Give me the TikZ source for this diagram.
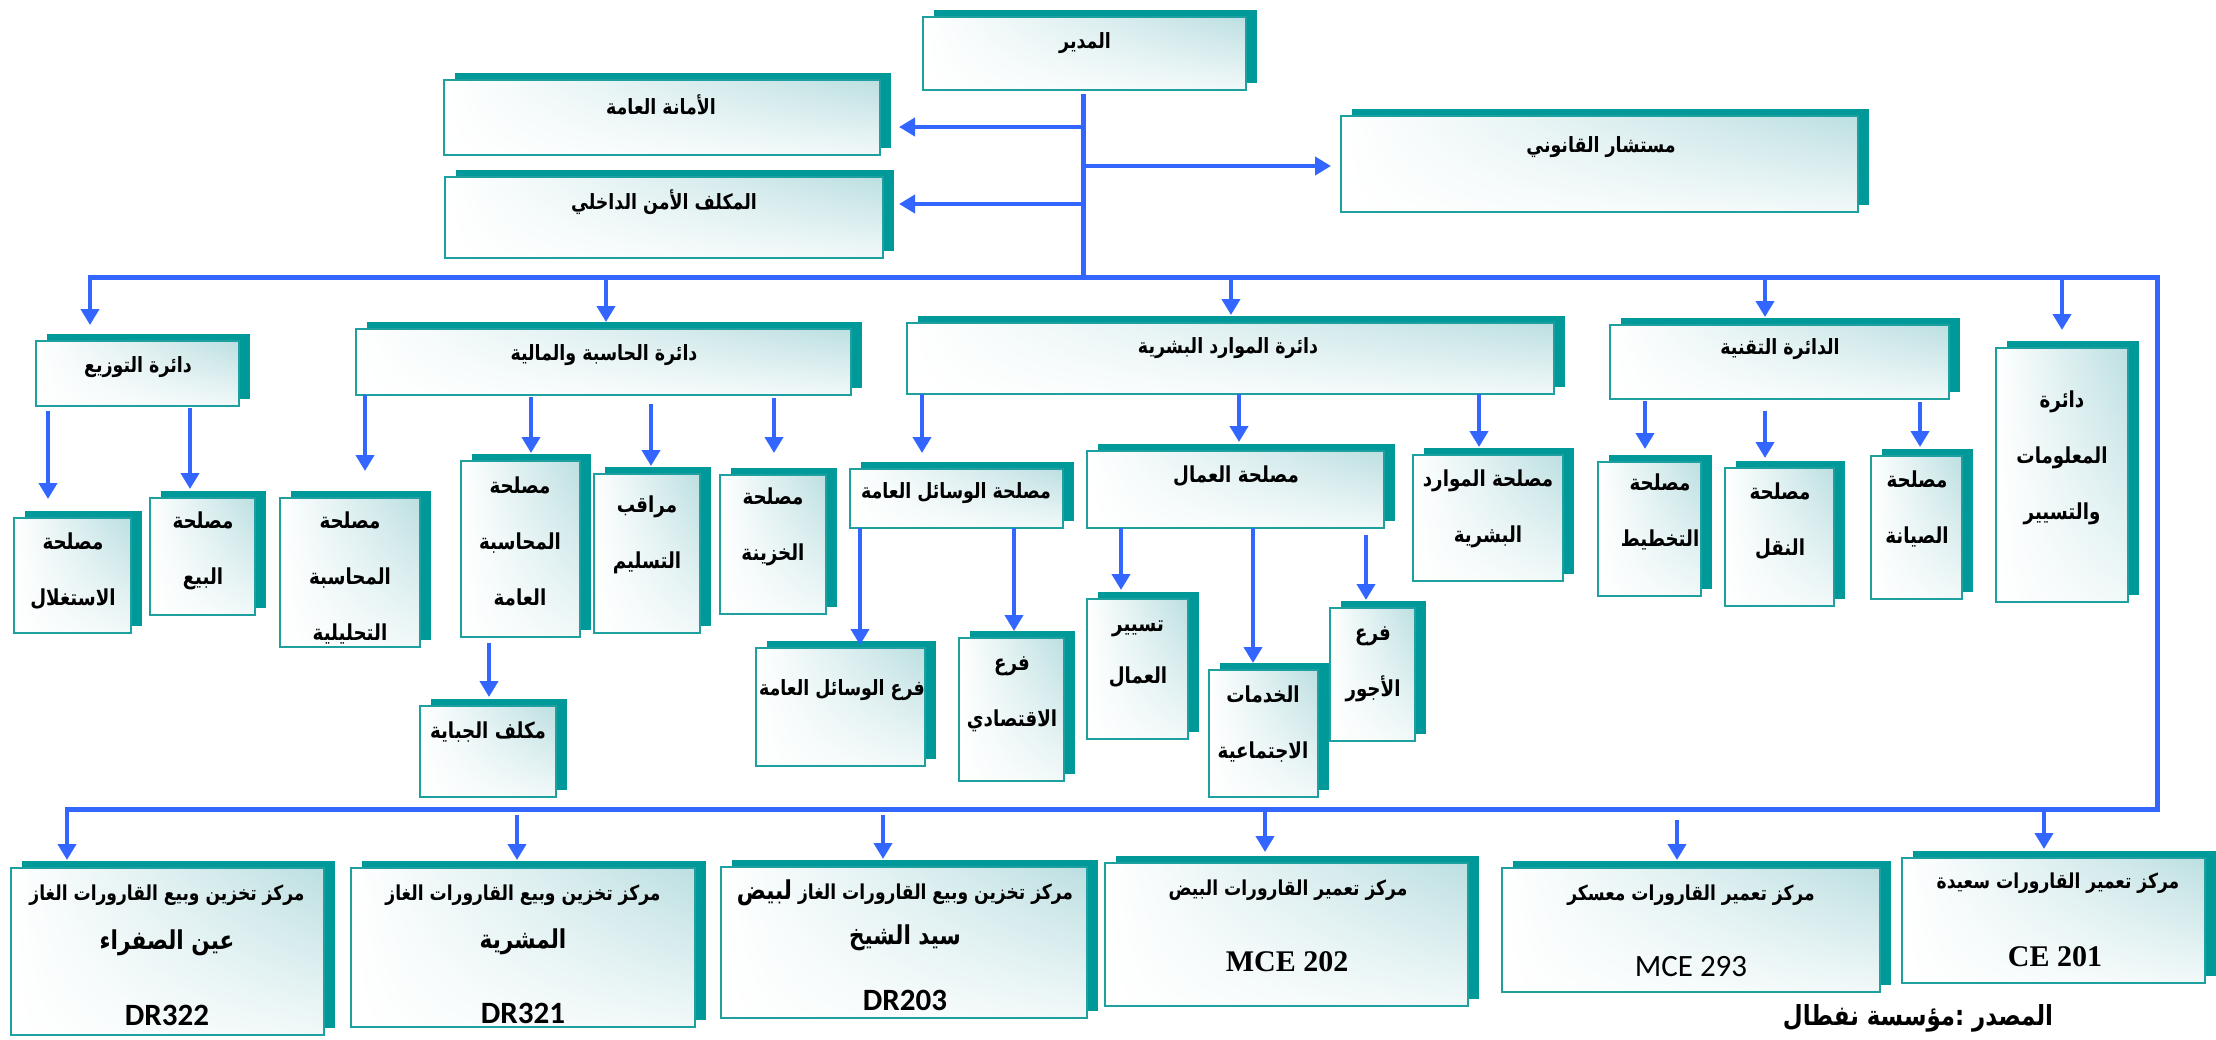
\documentclass[tikz,border=0pt]{standalone}
\usepackage{fontspec}
\usetikzlibrary{arrows.meta,shadows,fit,shadings}
\TeXXeTstate=1
\newfontfamily\arabicfont[Script=Arabic,FakeStretch=0.83]{DejaVu Sans}
\newfontfamily\serifbf{Liberation Serif}
\newfontfamily\calib{Carlito}
\newcommand\arl[1]{\beginR #1\endR}
\definecolor{shadowteal}{RGB}{0,153,153}
\definecolor{borderteal}{RGB}{30,160,160}
\definecolor{gradteal}{RGB}{188,223,225}
\definecolor{lineblue}{RGB}{51,102,255}
\tikzset{
  obox/.style={draw=borderteal, line width=0.8pt, inner sep=0pt, outer sep=0pt,
    upper left=white, lower left=white, upper right=gradteal, lower right=white!80!gradteal,
    general shadow={fill=shadowteal, shadow xshift=5.5pt, shadow yshift=3.5pt}},
  txt/.style={font=\arabicfont\bfseries\fontsize{10.5}{28}\selectfont, align=center, inner sep=0pt},
  txtv/.style={font=\arabicfont\bfseries\fontsize{11}{28}\selectfont, align=center, inner sep=0pt},
  txtsmall/.style={font=\arabicfont\bfseries\fontsize{10.3}{20}\selectfont, align=center, inner sep=0pt},
  txtbig/.style={font=\arabicfont\bfseries\fontsize{13}{20}\selectfont, align=center, inner sep=0pt},
  txtsrc/.style={font=\arabicfont\bfseries\fontsize{13.8}{20}\selectfont, align=center, inner sep=0pt},
  codeA/.style={font=\calib\bfseries\fontsize{15.5}{17}\selectfont, inner sep=0pt},
  codeB/.style={font=\serifbf\bfseries\fontsize{15}{17}\selectfont, inner sep=0pt},
  codeC/.style={font=\calib\fontsize{15.5}{17}\selectfont, inner sep=0pt},
  arr/.style={draw=lineblue, line width=2.2pt, -{Triangle[width=9pt,length=8pt]}},
  bus/.style={draw=lineblue, line width=2.5pt, line cap=rect},
}
\newcommand\obx[5]{\node[obox, fit={(#2,#3) (#4,#5)}] (#1) {};}
\newcommand\darr[5]{\draw[arr, shorten <=#3, shorten >=#5] (#1,0 |- #2) -- (#1,0 |- #4.north);}
\begin{document}
\begin{tikzpicture}[x=0.5pt,y=-0.5pt]
\useasboundingbox (0,0) rectangle (2216,1039);
% ---------- boxes ----------
\obx{mudir}{923}{17}{1246}{90}
\obx{amana}{444}{80}{880}{155}
\obx{amn}{445}{177}{883}{258}
\obx{must}{1341}{116}{1858}{212}
\obx{tawzi}{36}{341}{239}{406}
\obx{hasiba}{356}{329}{851}{395}
\obx{mawarid}{907}{323}{1554}{394}
\obx{taqnia}{1610}{325}{1949}{399}
\obx{malumat}{1996}{348}{2128}{602}
\obx{istighlal}{14}{518}{131}{633}
\obx{bay}{150}{498}{255}{615}
\obx{tahlil}{280}{498}{420}{647}
\obx{amma}{461}{461}{580}{637}
\obx{taslim}{594}{474}{700}{633}
\obx{khazina}{720}{475}{826}{614}
\obx{jibaya}{420}{706}{556}{797}
\obx{wasail}{850}{469}{1063}{528}
\obx{ummal}{1087}{451}{1384}{528}
\obx{mawaridB}{1413}{455}{1563}{581}
\obx{takhtit}{1598}{462}{1701}{596}
\obx{naql}{1725}{468}{1834}{606}
\obx{siyana}{1871}{456}{1962}{599}
\obx{farwasail}{756}{648}{925}{766}
\obx{iqtisadi}{959}{638}{1064}{781}
\obx{tasyir}{1087}{599}{1188}{739}
\obx{khadamat}{1209}{670}{1318}{797}
\obx{ujur}{1330}{608}{1415}{741}
\obx{safra}{11}{868}{324}{1035}
\obx{mechria}{351}{868}{695}{1027}
\obx{bayadh}{721}{867}{1087}{1018}
\obx{elbayadh}{1105}{863}{1468}{1006}
\obx{maskar}{1502}{868}{1880}{992}
\obx{saida}{1902}{858}{2205}{983}
% ---------- texts ----------
\node[txt] (tmudir) at (1085,43) {\arl{المدير}};
\node[txt] (tamana) at (661,105) {\arl{الأمانة العامة}};
\node[txt] (tamn) at (664,202) {\arl{المكلف الأمن الداخلي}};
\node[txt] (tmust) at (1601,147) {\arl{مستشار القانوني}};
\node[txt] (ttawzi) at (138,367) {\arl{دائرة التوزيع}};
\node[txt] (thasiba) at (604,355) {\arl{دائرة الحاسبة والمالية}};
\node[txt] (tmawarid) at (1228,348) {\arl{دائرة الموارد البشرية}};
\node[txt] (ttaqnia) at (1780,349) {\arl{الدائرة التقنية}};
\node[txtv] (tmalumat) at (2062,458) {\arl{دائرة}\\\arl{المعلومات}\\\arl{والتسيير}};
\node[txtv] (tistighlal) at (73,571) {\arl{مصلحة}\\\arl{الاستغلال}};
\node[txtv] (tbay) at (203,551) {\arl{مصلحة}\\\arl{البيع}};
\node[txtv] (ttahlil) at (350,578) {\arl{مصلحة}\\\arl{المحاسبة}\\\arl{التحليلية}};
\node[txtv] (tamma) at (520,541) {\arl{مصلحة}\\\arl{المحاسبة}\\\arl{العامة}};
\node[txtv] (ttaslim) at (647,535) {\arl{مراقب}\\\arl{التسليم}};
\node[txtv] (tkhazina) at (773,527) {\arl{مصلحة}\\\arl{الخزينة}};
\node[txtv] (tjibaya) at (488,732) {\arl{مكلف الجباية}};
\node[txt] (twasail) at (956,493) {\arl{مصلحة الوسائل العامة}};
\node[txtv] (tummal) at (1236,476) {\arl{مصلحة العمال}};
\node[txtv] (tmawaridB) at (1488,509) {\arl{مصلحة الموارد}\\\arl{البشرية}};
\node[txtv] (ttakhtit) at (1660,512) {\arl{مصلحة}\\\arl{التخطيط}};
\node[txtv] (tnaql) at (1780,521) {\arl{مصلحة}\\\arl{النقل}};
\node[txtv] (tsiyana) at (1917,509) {\arl{مصلحة}\\\arl{الصيانة}};
\node[txt] (tfarwasail) at (842,690) {\arl{فرع الوسائل العامة}};
\node[txtv] (tiqtisadi) at (1012,694) {\arl{فرع}\\\arl{الاقتصادي}};
\node[txtv, font=\arabicfont\bfseries\fontsize{11}{26}\selectfont] (ttasyir) at (1138,654) {\arl{تسيير}\\\arl{العمال}};
\node[txtv] (tkhadamat) at (1263,724) {\arl{الخدمات}\\\arl{الاجتماعية}};
\node[txtv] (tujur) at (1373,664) {\arl{فرع}\\\arl{الأجور}};
% bottom boxes
\node[txtsmall] (tsafraA) at (167,895) {\arl{مركز تخزين وبيع القارورات الغاز}};
\node[txtbig] (tsafraB) at (167,943) {\arl{عين الصفراء}};
\node[codeA] (tsafraC) at (167,1015) {DR322};
\node[txtsmall] (tmechriaA) at (523,895) {\arl{مركز تخزين وبيع القارورات الغاز}};
\node[txtbig] (tmechriaB) at (523,942) {\arl{المشرية}};
\node[codeA] (tmechriaC) at (523,1013) {DR321};
\node[txtsmall] (tbayadhA) at (905,893) {\arl{مركز تخزين وبيع القارورات الغاز {\fontsize{13}{20}\selectfont لبيض}}};
\node[txtbig] (tbayadhB) at (905,938) {\arl{سيد الشيخ}};
\node[codeA] (tbayadhC) at (905,1000) {DR203};
\node[txtsmall] (telbayadhA) at (1288,890) {\arl{مركز تعمير القارورات البيض}};
\node[codeB] (telbayadhC) at (1287,962) {MCE 202};
\node[txtsmall] (tmaskarA) at (1691,895) {\arl{مركز تعمير القارورات معسكر}};
\node[codeC] (tmaskarC) at (1691,967) {MCE 293};
\node[txtsmall] (tsaidaA) at (2058,883) {\arl{مركز تعمير القارورات سعيدة}};
\node[codeB] (tsaidaC) at (2055,957) {CE 201};
\node[txtsrc] (source) at (1918,1018) {\arl{المصدر :مؤسسة نفطال}};
% ---------- connectors ----------
\coordinate (busTL) at (90,277);
\coordinate (busTR) at (2157,277);
\coordinate (busBR) at (2157,809);
\coordinate (busBL) at (67,809);
\coordinate (trunkBot) at (1083,277);
\draw[bus] (busTL) -- (busTR) -- (busBR) -- (busBL);
\draw[bus, line cap=butt] (1083,0 |- mudir.south) ++(0,4) -- (trunkBot);
\draw[arr, shorten >=9.5pt] (1083,127) -- (amana.east |- 0,127);
\draw[arr, shorten >=8pt] (1083,204) -- (amn.east |- 0,204);
\draw[arr, shorten >=5pt] (1083,166) -- (must.west |- 0,166);
% level 2
\darr{90}{busTL}{0pt}{tawzi}{8pt}
\darr{606}{busTL}{0pt}{hasiba}{3.5pt}
\darr{1231}{busTL}{0pt}{mawarid}{4pt}
\darr{1765}{busTL}{0pt}{taqnia}{4pt}
\darr{2062}{busTL}{0pt}{malumat}{9pt}
% level 3
\darr{48}{tawzi.south}{2.5pt}{istighlal}{9.5pt}
\darr{190}{tawzi.south}{1pt}{bay}{4.5pt}
\darr{365}{hasiba.south}{0pt}{tahlil}{13.5pt}
\darr{531}{hasiba.south}{1pt}{amma}{4pt}
\darr{651}{hasiba.south}{4.5pt}{taslim}{4pt}
\darr{774}{hasiba.south}{1.5pt}{khazina}{11pt}
\darr{489}{amma.south}{3pt}{jibaya}{4.5pt}
\darr{922}{mawarid.south}{0pt}{wasail}{8pt}
\darr{1239}{mawarid.south}{0pt}{ummal}{4.5pt}
\darr{1479}{mawarid.south}{0pt}{mawaridB}{4pt}
\darr{1645}{taqnia.south}{1pt}{takhtit}{6.5pt}
\darr{1765}{taqnia.south}{6pt}{naql}{5pt}
\darr{1920}{taqnia.south}{1.5pt}{siyana}{4.5pt}
\darr{860}{wasail.south}{0pt}{farwasail}{1.5pt}
\darr{1014}{wasail.south}{0pt}{iqtisadi}{3.5pt}
\darr{1121}{ummal.south}{0pt}{tasyir}{4.5pt}
\darr{1253}{ummal.south}{0pt}{khadamat}{3.5pt}
\darr{1366}{ummal.south}{3.5pt}{ujur}{4pt}
% bottom level
\darr{67}{busBL}{0pt}{safra}{4pt}
\darr{517}{busBL}{3pt}{mechria}{4pt}
\darr{883}{busBL}{3pt}{bayadh}{4pt}
\darr{1265}{busBL}{0pt}{elbayadh}{5.5pt}
\darr{1677}{busBL}{5.5pt}{maskar}{4pt}
\darr{2044}{busBL}{1.5pt}{saida}{4.5pt}
\end{tikzpicture}
\end{document}
